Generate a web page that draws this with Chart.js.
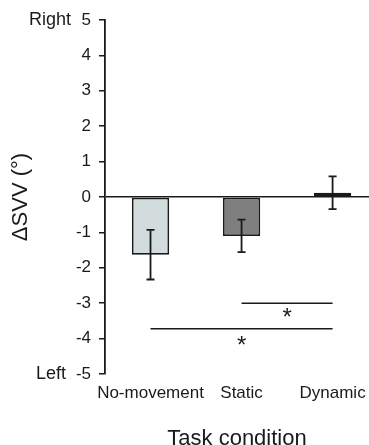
<!DOCTYPE html>
<html>
<head>
<meta charset="utf-8">
<script src="https://cdn.jsdelivr.net/npm/chart.js@4"></script>
<style>
  html, body { margin: 0; padding: 0; background: #fff; }
  #wrap { width: 369px; height: 445px; }
</style>
</head>
<body>
<div id="wrap"><canvas id="svv-chart" width="369" height="445"></canvas></div>
<script>
// data =========================================================//
const conditions = ['No-movement', 'Static', 'Dynamic'];
const meanSVV = [-1.63, -1.1, 0.12];
const errSVV = [0.7, 0.46, 0.46];
const barColors = ['#d2dcdc', '#7f7f7f', '#4a4a4a'];
const yTicks = [5, 4, 3, 2, 1, 0, -1, -2, -3, -4, -5];
// significance brackets: [from index, to index, y value]
const sigPairs = [[1, 2, -3.0], [0, 2, -3.72]];

const FONT = "'Liberation Sans', Arial, sans-serif";
const INK = '#1a1a1a';

// error bars, brackets, Right/Left =========================================================//
const extrasPlugin = {
    id: 'extras',
    afterDatasetsDraw(chart) {
        const ctx = chart.ctx;
        const x = chart.scales.x, y = chart.scales.y;
        ctx.save();
        ctx.strokeStyle = INK;
        ctx.lineWidth = 1.8;
        meanSVV.forEach((m, i) => {
            const px = x.getPixelForValue(i);
            const top = y.getPixelForValue(m + errSVV[i]);
            const bot = y.getPixelForValue(m - errSVV[i]);
            ctx.beginPath();
            ctx.moveTo(px, top); ctx.lineTo(px, bot);
            ctx.moveTo(px - 4, top); ctx.lineTo(px + 4, top);
            ctx.moveTo(px - 4, bot); ctx.lineTo(px + 4, bot);
            ctx.stroke();
        });
        ctx.lineWidth = 1.5;
        ctx.fillStyle = INK;
        ctx.font = '24px ' + FONT;
        ctx.textAlign = 'center';
        ctx.textBaseline = 'middle';
        sigPairs.forEach((p, k) => {
            const x1 = x.getPixelForValue(p[0]);
            const x2 = x.getPixelForValue(p[1]);
            const py = y.getPixelForValue(p[2]);
            ctx.beginPath();
            ctx.moveTo(x1, py); ctx.lineTo(x2, py);
            ctx.stroke();
            ctx.fillText('*', (x1 + x2) / 2, py + (k === 0 ? 15 : 18));
        });
        ctx.font = '18px ' + FONT;
        ctx.textAlign = 'right';
        ctx.fillText('Right', 71, y.getPixelForValue(5));
        ctx.fillText('Left', 66, y.getPixelForValue(-5));
        ctx.restore();
    }
};

const svvConfig = {
    type: 'bar',
    data: {
        datasets: [{
            data: meanSVV.map((v, i) => ({ x: i, y: v })),
            backgroundColor: barColors,
            borderColor: INK,
            borderWidth: 1.8,
            borderSkipped: false,
            barPercentage: 0.41,
            categoryPercentage: 1
        }]
    },
    options: {
        responsive: false,
        animation: false,
        layout: { padding: { top: 20, right: 0, left: 0, bottom: 0 } },
        plugins: { legend: { display: false }, tooltip: { enabled: false } },
        scales: {
            x: {
                type: 'linear',
                offset: false,
                min: -0.5,
                max: 2.4,
                border: { display: false },
                grid: { display: false, offset: false },
                afterBuildTicks: (s) => { s.ticks = conditions.map((c, i) => ({ value: i })); },
                afterFit: (s) => { s.height = 71; s.paddingLeft = 0; s.paddingRight = 0; },
                ticks: {
                    color: INK,
                    font: { family: FONT, size: 17 },
                    padding: 1,
                    maxRotation: 0,
                    autoSkip: false,
                    callback: (v) => conditions[v]
                },
                title: {
                    display: true,
                    text: 'Task condition',
                    color: INK,
                    font: { family: FONT, size: 22 },
                    padding: { top: 0, bottom: -7 }
                }
            },
            y: {
                min: -5,
                max: 5,
                border: { display: true, color: INK, width: 1.8 },
                afterBuildTicks: (s) => { s.ticks = yTicks.map(v => ({ value: v })); },
                afterFit: (s) => { s.width = 105; },
                grid: {
                    drawOnChartArea: true,
                    color: (c) => c.tick && c.tick.value === 0 ? INK : 'rgba(0,0,0,0)',
                    lineWidth: 1.5,
                    tickColor: INK,
                    tickLength: 6,
                    tickWidth: 1.5
                },
                ticks: {
                    color: INK,
                    font: { family: FONT, size: 17 },
                    padding: 8
                },
                title: {
                    display: true,
                    text: 'ΔSVV (°)',
                    color: INK,
                    font: { family: FONT, size: 22 },
                    padding: { top: 8, bottom: 0 }
                }
            }
        }
    },
    plugins: [extrasPlugin]
};

const svvChart = new Chart(document.getElementById('svv-chart'), svvConfig);
</script>
</body>
</html>
